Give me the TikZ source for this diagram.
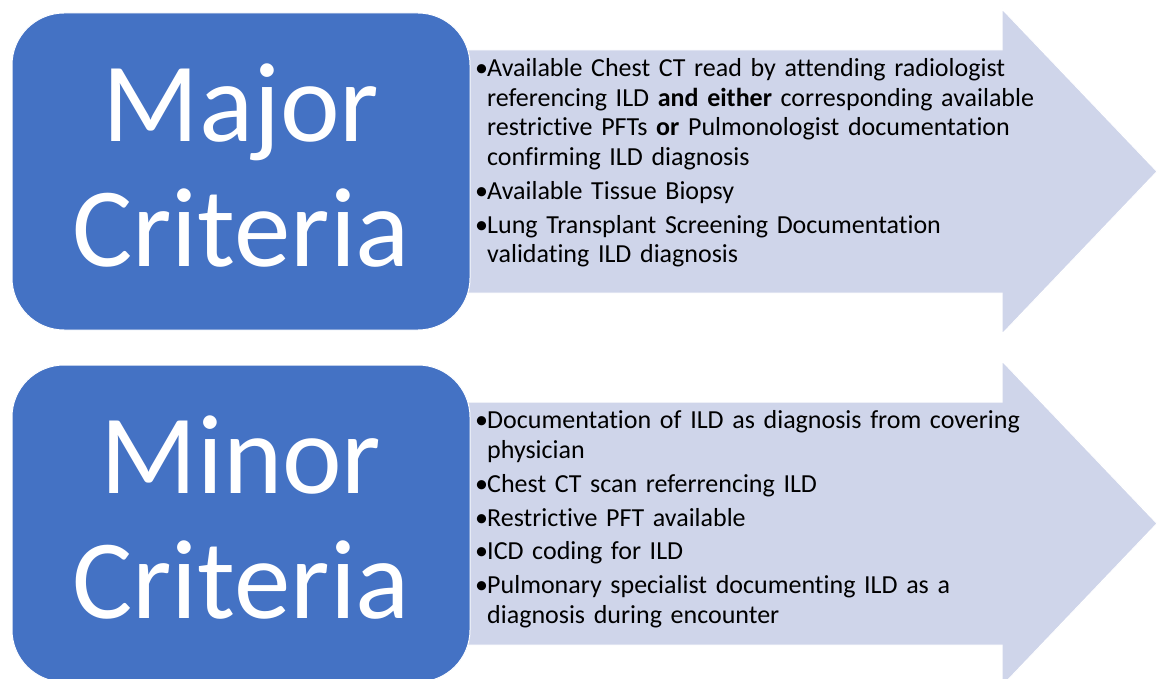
\documentclass[tikz,border=0pt]{standalone}
\usepackage{fontspec}
\setmainfont{Carlito}[Ligatures=NoCommon]
\usetikzlibrary{positioning}
\definecolor{critblue}{HTML}{4472C4}
\definecolor{critlight}{HTML}{CFD5EA}
\tikzset{
    critbox/.style = {draw=white, fill=critblue, line width=1pt,
        rounded corners=52pt,
        minimum width=458pt,
        minimum height=317pt,
        text=white, align=center, text depth=12pt,
        font=\fontsize{113}{125}\selectfont},
    critarrow/.style = {fill=critlight, draw=white, line width=1pt},
    itemlist/.style = {anchor=base west, inner sep=0pt, text width=640pt,
        align=left, font=\fontsize{26}{29.5}\selectfont}
}
\newcommand{\critem}[1]{\par\noindent\hangindent=12pt\hangafter=1\makebox[12pt][l]{\textbullet}#1\par\vspace{4.5pt}}

\begin{document}
\begin{tikzpicture}[x=1pt,y=-1pt]
    \useasboundingbox (0,0) rectangle (1157,679);
    \clip (0,0) rectangle (1157,679);
    % major criteria
    \draw[critarrow] (400,50) -- (1002,50) -- (1002,9) -- (1157,171.5)
        -- (1002,334) -- (1002,293) -- (400,293) -- cycle;
    \node[critbox] (major) at (241,171.5) {Major\\Criteria};
    \node[itemlist] (majorlist) at (475,47.5) {%
        \critem{Available Chest CT read by attending radiologist\newline
            referencing ILD \textbf{and either} corresponding available\newline
            restrictive PFTs \textbf{or} Pulmonologist documentation\newline
            confirming ILD diagnosis}%
        \critem{Available Tissue Biopsy}%
        \critem{Lung Transplant Screening Documentation\newline
            validating ILD diagnosis}};
    % minor criteria
    \draw[critarrow] (400,402) -- (1002,402) -- (1002,361) -- (1157,523.5)
        -- (1002,686) -- (1002,645) -- (400,645) -- cycle;
    \node[critbox] (minor) at (241,523.5) {Minor\\Criteria};
    \node[itemlist] (minorlist) at (475,399) {%
        \critem{Documentation of ILD as diagnosis from covering\newline
            physician}%
        \critem{Chest CT scan referrencing ILD}%
        \critem{Restrictive PFT available}%
        \critem{ICD coding for ILD}%
        \critem{Pulmonary specialist documenting ILD as a\newline
            diagnosis during encounter}};
\end{tikzpicture}
\end{document}
